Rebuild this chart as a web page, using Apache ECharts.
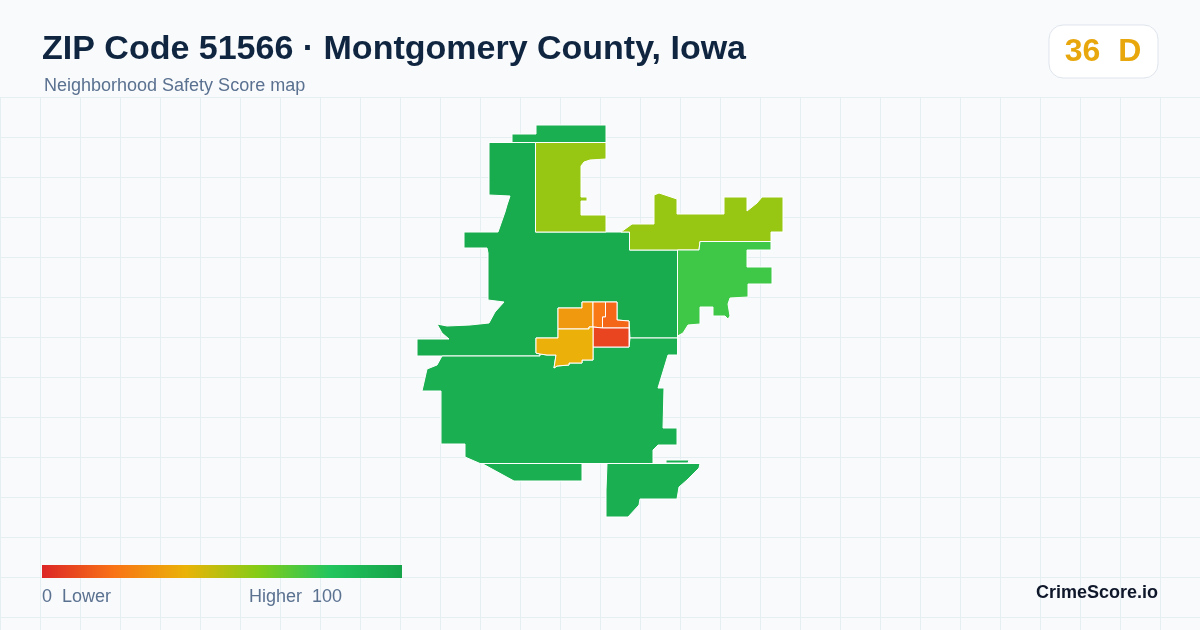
<!DOCTYPE html>
<html>
<head>
<meta charset="utf-8">
<title>ZIP Code 51566</title>
<script src="https://cdn.jsdelivr.net/npm/echarts@6/dist/echarts.min.js"></script>
<style>
  html, body { margin: 0; padding: 0; background: #f8fafc; }
  #main { width: 1200px; height: 630px; }
</style>
</head>
<body>
<div id="main"></div>
<script>
var tractNames = ["north strip", "central", "north lime", "east lime", "east", "south", "southwest", "southeast",
  "amber", "orange", "red orange", "red", "yellow"];
var tractScores = [93, 95, 56, 56, 74, 93, 93, 93, 32, 22, 17, 8, 39];
var scoreStops = [0, 100];
var scoreColors = ["#dc2626", "#f97316", "#eab308", "#84cc16", "#22c55e", "#16a34a"];

// 地图轮廓 (map geometry, in outline units)
var tractOutlines = [
  [[[536,125],[606,125],[606,142.5],[512,142.5],[512,134],[536,134]]],
  [[[489,142.5],[535.5,142.5],[535.5,232],[629.5,232],[629.5,250],[677.5,250],[677.5,338],[630,338],[629,321],[617,320],[617,302],[582,302],[582,308],[558,308],[558,338],[536,338],[536,353],[540,354],[540,356],[417,356],[417,339],[449,339],[442,333],[437,324],[447,326],[470,325],[489,323],[495,312],[504,302],[488,300],[488,253],[487,248],[464,248],[464,232],[498,232],[505,212],[507,205],[510,196],[489,195]]],
  [[[535.5,142.5],[606,142.5],[606,159],[590,160],[584,162],[581,166],[581,197],[587,197],[587,201],[581,201],[581,215],[606,215],[606,232],[535.5,232]]],
  [[[621,232],[632,224],[654,224],[654,195],[659,193],[677,199],[677,214],[724,214],[724,197],[747,197],[747,211],[757,203],[762,197],[783,197],[783,232],[771,232],[771,241.5],[700,241.5],[699,250],[629.5,250],[629.5,232]]],
  [[[677.5,250],[699,250],[700,241.5],[771,241.5],[771,250],[747,250],[747,267],[772,267],[772,284],[748,284],[748,297],[730,298],[728,304],[730,316],[728,319],[725,316],[713,316],[713,307],[700,307],[700,324],[688,325],[683,333],[677.5,336]]],
  [[[442,356],[540,356],[540,354],[547,355],[556,355],[554,368],[557,366],[569,365],[569,363],[582,363],[582,360],[593,360],[593,347],[629,347],[630,338],[677.5,338],[677.5,355],[668,355],[658,388],[664,388],[663,428],[677,428],[677,445],[658,445],[653,450],[653,463.5],[480,463.5],[465,457],[465,444],[441,444],[441,391],[422,391],[427,369],[437,365]]],
  [[[482,463.5],[582,463.5],[582,481],[514,481]]],
  [[[607,463.5],[700,463.5],[699,468],[687,480],[679,487],[677,499],[640,499],[639,505],[628,517],[606,517],[606,490]]],
  [[[558,308],[582,308],[582,302],[593,302],[593,327],[589,327],[589,329],[558,329]]],
  [[[593,302],[605.5,302],[605.5,317],[602.5,317],[602.5,328],[593,327]]],
  [[[605.5,302],[617,302],[617,320],[629,321],[629,328],[612,328],[602.5,328],[602.5,317],[605.5,317]]],
  [[[593,327],[602.5,328],[612,328],[629,328],[629,347],[593,347]]],
  [[[536,338],[558,338],[558,329],[589,329],[589,327],[593,327],[593,360],[582,360],[582,363],[569,363],[569,365],[557,366],[554,368],[556,355],[547,355],[540,354],[536,353]]]
];
var sliverOutline = [[[666,460],[689,460],[688,463],[666,463]]];

function buildGeoJson() {
  var features = [];
  for (var i = 0; i < tractNames.length; i++) {
    var geometry = { type: "Polygon", coordinates: tractOutlines[i] };
    if (tractNames[i] === "southeast") {
      geometry = { type: "MultiPolygon", coordinates: [tractOutlines[i], sliverOutline] };
    }
    features.push({ type: "Feature", properties: { name: tractNames[i] }, geometry: geometry });
  }
  return { type: "FeatureCollection", features: features };
}

function buildData() {
  var data = [];
  for (var i = 0; i < tractNames.length; i++) {
    data.push({ name: tractNames[i], value: tractScores[i] });
  }
  return data;
}

// 图例渐变 (visualMap clips its bar to round corners, the legend here is square)
function buildLegendStops() {
  var stops = [];
  for (var i = 0; i < scoreColors.length; i++) {
    stops.push({ offset: i / (scoreColors.length - 1), color: scoreColors[i] });
  }
  return stops;
}

var myChart = echarts.init(document.querySelector("#main"), null, { renderer: "canvas" });
echarts.registerMap("zip51566", buildGeoJson());

var font = '"Liberation Sans", Arial, sans-serif';
var option = {
  animation: false,
  backgroundColor: "#f8fafc",
  title: [{
    text: "ZIP Code 51566 · Montgomery County, Iowa",
    left: 42,
    top: 33,
    padding: 0,
    textStyle: { color: "#0f2540", fontFamily: font, fontWeight: "bold", fontSize: 34 }
  }, {
    text: "Neighborhood Safety Score map",
    left: 44,
    top: 77,
    padding: 0,
    textStyle: { color: "#5a7190", fontFamily: font, fontWeight: "normal", fontSize: 18 }
  }],
  // 背景网格
  grid: { left: 0, top: 97, width: 1200, height: 533 },
  xAxis: {
    type: "value", min: 0, max: 1200, interval: 40,
    axisLine: { show: false }, axisTick: { show: false }, axisLabel: { show: false },
    splitLine: { lineStyle: { color: "#e5eff2", width: 1 } }
  },
  yAxis: {
    type: "value", min: 0, max: 533, interval: 40, inverse: true,
    axisLine: { show: false }, axisTick: { show: false }, axisLabel: { show: false },
    splitLine: { lineStyle: { color: "#e5eff2", width: 1 } }
  },
  visualMap: {
    type: "continuous",
    show: false,
    min: scoreStops[0],
    max: scoreStops[1],
    inRange: { color: scoreColors },
    seriesIndex: 0
  },
  series: [{
    type: "map",
    map: "zip51566",
    projection: {
      project: function (p) { return p; },
      unproject: function (p) { return p; }
    },
    left: 417,
    top: 125,
    width: 366,
    height: 392,
    roam: false,
    silent: true,
    label: { show: false },
    itemStyle: { borderColor: "#ffffff", borderWidth: 1 },
    data: buildData()
  }],
  graphic: [{
    type: "rect",
    z: 100,
    shape: { x: 1049, y: 25, width: 109, height: 53, r: 14 },
    style: { fill: "#ffffff", stroke: "#dfe5ed", lineWidth: 1 }
  }, {
    type: "text",
    z: 101,
    x: 1103, y: 52,
    style: { text: "36  D", fill: "#e8a70d", font: "bold 32px " + font, textAlign: "center", textVerticalAlign: "middle" }
  }, {
    type: "rect",
    z: 100,
    shape: { x: 42, y: 565, width: 360, height: 13 },
    style: { fill: new echarts.graphic.LinearGradient(0, 0, 1, 0, buildLegendStops()) }
  }, {
    type: "text",
    z: 100,
    x: 42, y: 597,
    style: { text: scoreStops[0] + "  Lower", fill: "#5a7190", font: "18px " + font, textVerticalAlign: "middle" }
  }, {
    type: "text",
    z: 100,
    x: 249, y: 597,
    style: { text: "Higher  " + scoreStops[1], fill: "#5a7190", font: "18px " + font, textVerticalAlign: "middle" }
  }, {
    type: "text",
    z: 100,
    x: 1158, y: 593,
    style: { text: "CrimeScore.io", fill: "#0f172a", font: "bold 18px " + font, textAlign: "right", textVerticalAlign: "middle" }
  }]
};
myChart.setOption(option);

window.addEventListener("resize", function () {
  myChart.resize();
});
</script>
</body>
</html>
